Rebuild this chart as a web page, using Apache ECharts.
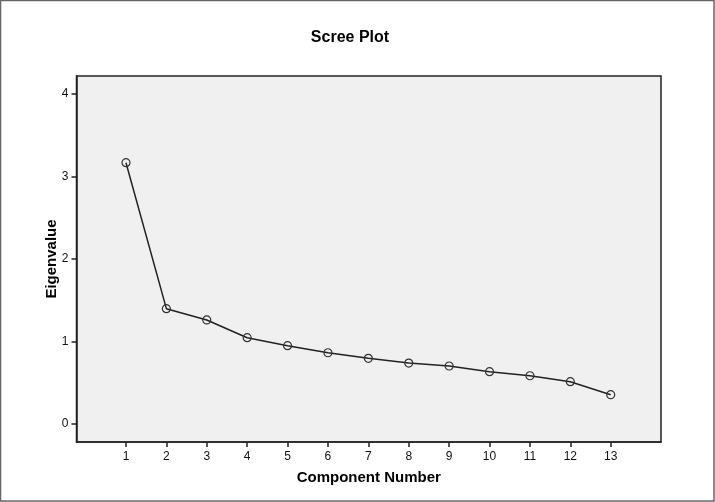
<!DOCTYPE html>
<html>
<head>
<meta charset="utf-8">
<script src="https://cdn.jsdelivr.net/npm/echarts@6/dist/echarts.min.js"></script>
<style>
  html, body { margin: 0; padding: 0; background: #fff; }
  #chart { width: 715px; height: 502px; }
</style>
</head>
<body>
<div id="chart"></div>
<script>
const components = [1, 2, 3, 4, 5, 6, 7, 8, 9, 10, 11, 12, 13];
const eigenvalues = [3.167, 1.398, 1.261, 1.046, 0.949, 0.864, 0.796, 0.739, 0.703, 0.634, 0.585, 0.513, 0.355];
const yTicks = [0, 1, 2, 3, 4];

const chart = echarts.init(document.getElementById('chart'), null, { renderer: 'canvas' });
const fontFamily = '"Liberation Sans", Arial, sans-serif';

chart.setOption({
  animation: false,
  backgroundColor: '#ffffff',
  title: {
    text: 'Scree Plot',
    left: 345,
    textAlign: 'center',
    top: 25,
    textStyle: { fontFamily, fontSize: 16, fontWeight: 'bold', color: '#000' }
  },
  graphic: [{
    type: 'rect',
    shape: { x: 0.5, y: 0.5, width: 713.5, height: 500.5 },
    style: { fill: 'none', stroke: '#666', lineWidth: 1.5 },
    silent: true,
    z: 100
  }],
  grid: {
    left: 76.5,
    top: 76,
    right: 54,
    bottom: 60,
    show: true,
    backgroundColor: '#f0f0f0',
    borderColor: '#222',
    borderWidth: 1.5
  },
  xAxis: {
    type: 'value',
    min: -0.225,
    max: 14.245,
    name: 'Component Number',
    nameLocation: 'middle',
    nameGap: 28,
    nameMoveOverlap: false,
    nameTextStyle: { fontFamily, fontSize: 15, fontWeight: 'bold', color: '#000' },
    axisLine: { show: true, onZero: false, lineStyle: { color: '#222', width: 1.5 } },
    axisTick: { show: true, customValues: components, length: 5, lineStyle: { color: '#222', width: 1.5 } },
    axisLabel: { customValues: components, fontFamily, fontSize: 12, color: '#111', margin: 9 },
    splitLine: { show: false }
  },
  yAxis: {
    type: 'value',
    min: -0.218,
    max: 4.218,
    name: 'Eigenvalue',
    nameLocation: 'middle',
    nameGap: 17,
    nameMoveOverlap: false,
    nameTextStyle: { fontFamily, fontSize: 15, fontWeight: 'bold', color: '#000' },
    axisLine: { show: true, onZero: false, lineStyle: { color: '#222', width: 1.5 } },
    axisTick: { show: true, customValues: yTicks, length: 5, lineStyle: { color: '#222', width: 1.5 } },
    axisLabel: { customValues: yTicks, fontFamily, fontSize: 12, color: '#111', margin: 8 },
    splitLine: { show: false }
  },
  series: [{
    type: 'line',
    data: components.map((c, i) => [c, eigenvalues[i]]),
    symbol: 'circle',
    symbolSize: 8,
    showSymbol: true,
    lineStyle: { color: '#222', width: 1.5 },
    itemStyle: { color: 'transparent', borderColor: '#333', borderWidth: 1.2 }
  }]
});
</script>
</body>
</html>
